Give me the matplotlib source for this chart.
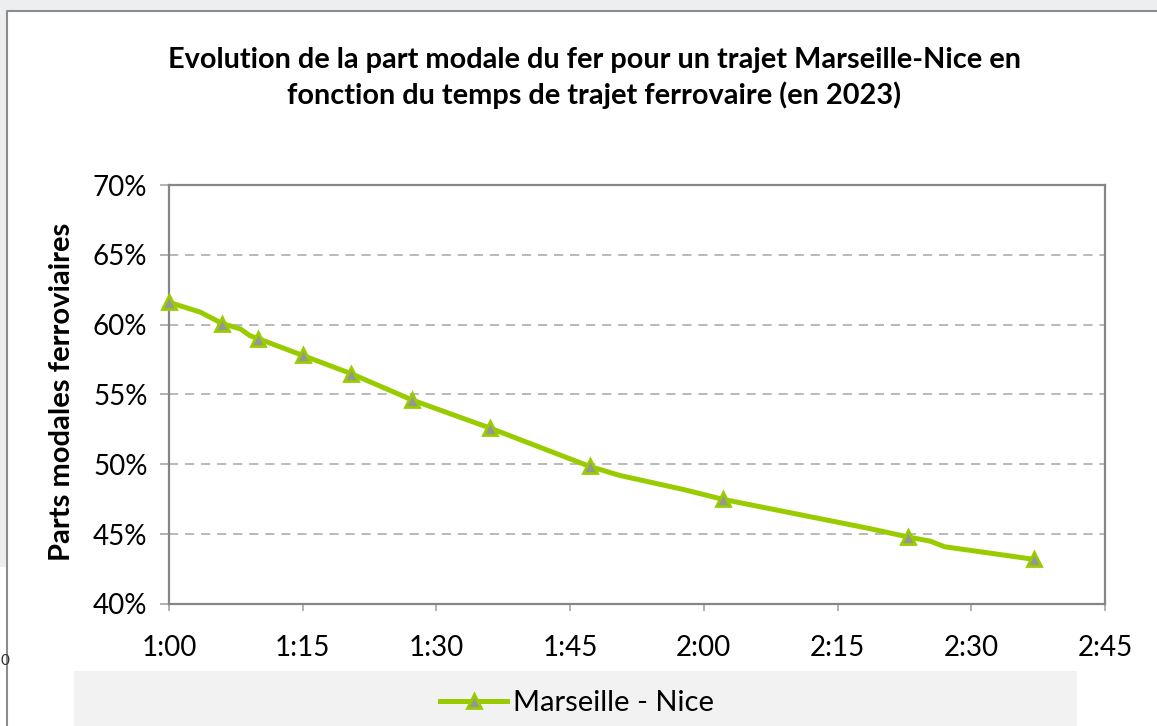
import matplotlib
matplotlib.use("Agg")
import matplotlib.pyplot as plt
from matplotlib.patches import Rectangle
from matplotlib.lines import Line2D
from matplotlib.ticker import FuncFormatter, MultipleLocator

W, H = 1157, 726
GREEN = "#99CC00"
MARK = "#969696"
AXIS = "#868686"
GRID = "#A6A6A6"
OUTSIDE = "#EDEEF0"
LEGBG = "#F2F2F2"

plt.rcParams["font.family"] = ["Lato", "DejaVu Sans"]

# travel time (minutes) and rail modal share (%)
minutes = [60, 63.5, 66, 68, 69.1, 70, 75, 80.4, 87.3, 96, 107.2, 110.6,
           117.7, 122.1, 138.6, 142.9, 145.4, 147, 157]
share = [61.6, 60.9, 60.07, 59.7, 59.2, 59.0, 57.8, 56.5, 54.6, 52.6, 49.85,
         49.2, 48.2, 47.5, 45.4, 44.8, 44.5, 44.1, 43.2]
marked = [0, 2, 5, 6, 7, 8, 9, 10, 13, 15, 18]

title = ("Evolution de la part modale du fer pour un trajet Marseille-Nice en\n"
         "fonction du temps de trajet ferrovaire (en 2023)")
ylabel = "Parts modales ferroviaires"
series = "Marseille - Nice"


def px(x, y):
    return x / W, 1 - y / H


fig = plt.figure(figsize=(W / 100, H / 100), dpi=100, facecolor="white")

# spreadsheet background around the chart object
fig.add_artist(Rectangle(px(0, 11), 1, 11 / H, transform=fig.transFigure,
                         facecolor=OUTSIDE, edgecolor="none", zorder=0))
fig.add_artist(Rectangle(px(0, 567), 7 / W, (567 - 11) / H, transform=fig.transFigure,
                         facecolor=OUTSIDE, edgecolor="none", zorder=0))
fig.add_artist(Line2D([7 / W, 7 / W, 1], [0, 1 - 11 / H, 1 - 11 / H],
                      transform=fig.transFigure, color="#8C8C8C", lw=1.5, zorder=1))
fig.text(0.5 / W, 1 - 661 / H, "0", fontsize=11, color="#333333", va="center")

# legend band
fig.add_artist(Rectangle(px(74, 726), (1077 - 74) / W, (726 - 671) / H,
                         transform=fig.transFigure, facecolor=LEGBG,
                         edgecolor="none", zorder=0))

ax = fig.add_axes([169 / W, 1 - 604 / H, (1105 - 169) / W, (604 - 185) / H])
ax.plot(minutes, share, color=GREEN, lw=3.6, marker="^", markevery=marked,
        markersize=10.5, markerfacecolor=MARK, markeredgecolor=GREEN,
        markeredgewidth=2, label=series, zorder=3, clip_on=False)

ax.set_xlim(60, 165)
ax.set_ylim(40, 70)
ax.xaxis.set_major_locator(MultipleLocator(15))
ax.yaxis.set_major_locator(MultipleLocator(5))
ax.xaxis.set_major_formatter(FuncFormatter(lambda v, p: f"{int(v) // 60}:{int(v) % 60:02d}"))
ax.yaxis.set_major_formatter(FuncFormatter(lambda v, p: f"{v:.0f}%"))
ax.tick_params(axis="x", length=5, width=1.2, color="#A6A6A6", pad=17,
               labelsize=20, labelcolor="black")
ax.tick_params(axis="y", length=6.5, width=1.2, color="#A6A6A6", pad=9,
               labelsize=20, labelcolor="black")
for sp in ax.spines.values():
    sp.set_color(AXIS)
    sp.set_linewidth(1.6)
ax.yaxis.grid(True, color=GRID, lw=1.1, ls=(0, (6, 4.5)))
ax.set_axisbelow(True)

fig.text(594 / W, 1 - 78 / H, title, ha="center", va="center", fontsize=20.8,
         fontweight="bold", linespacing=1.4)
fig.text(62 / W, 1 - 392 / H, ylabel, ha="center", va="center", rotation=90,
         fontsize=21, fontweight="bold")

fig.legend(loc="center left", bbox_to_anchor=px(440, 703), frameon=False,
           fontsize=21, handlelength=2.3, handletextpad=0.2, borderpad=0,
           borderaxespad=0)

fig.savefig("out.png", dpi=100, facecolor=fig.get_facecolor())
